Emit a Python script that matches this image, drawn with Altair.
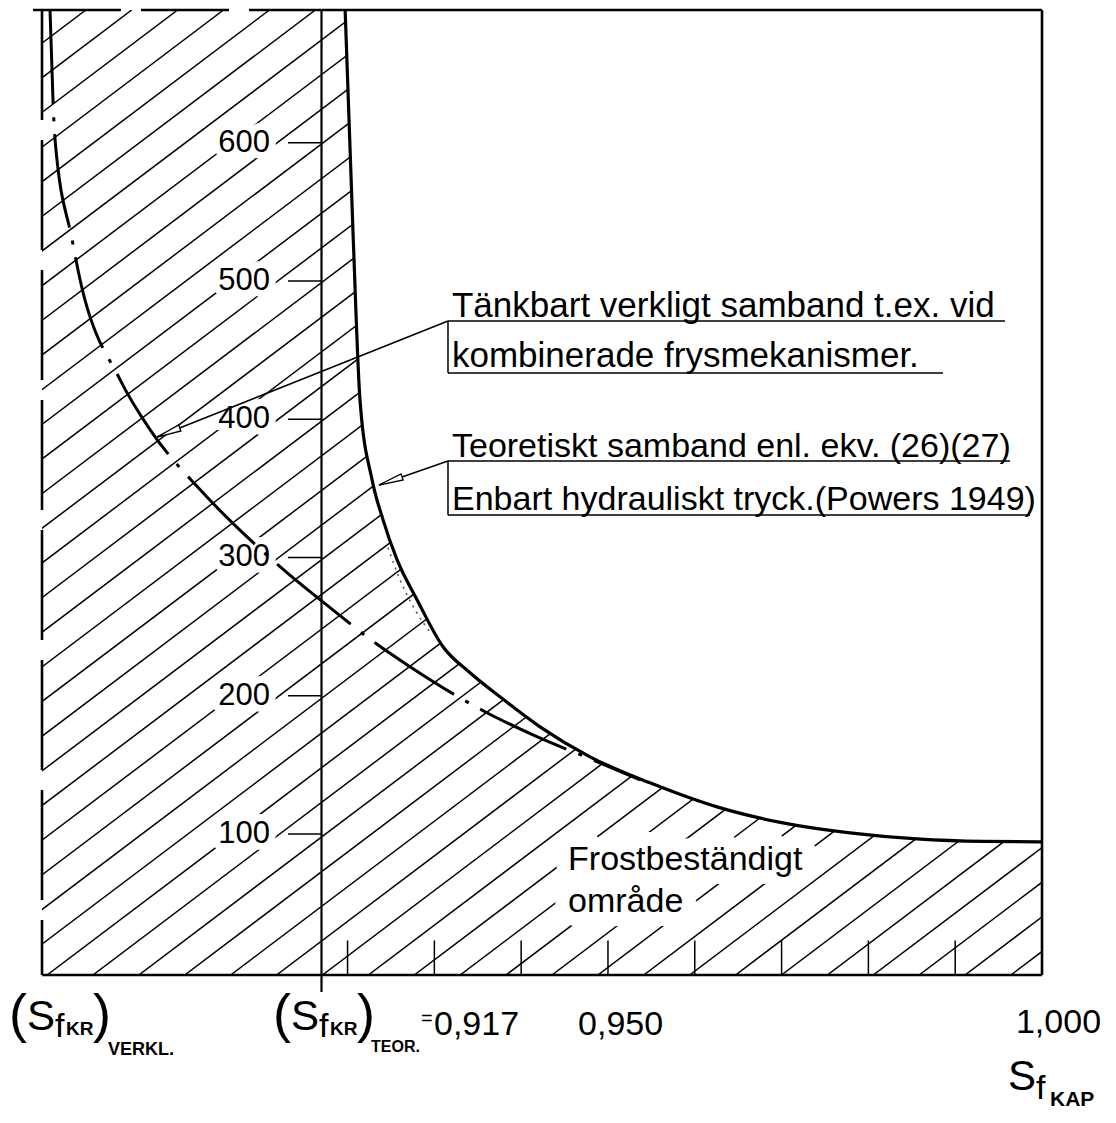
import altair as alt
import pandas as pd

# ---------------- values ----------------
# Theoretical relation (Powers 1949): S_f_KAP -> value
theo_x = [0.91971, 0.92063, 0.92143, 0.92282, 0.92408, 0.92570, 0.92800, 0.93100,
          0.93411, 0.93756, 0.94217, 0.94793, 0.95484, 0.96256, 0.97016, 0.97788,
          0.98560, 0.99320, 1.00000]
theo_y = [698.0, 535.1, 414.2, 356.3, 327.4, 298.4, 269.5, 235.4,
          216.6, 199.2, 177.5, 155.8, 137.0, 119.6, 108.0, 100.8,
          96.4, 94.6, 94.3]

# Conceivable real relation (dash-dot curve)
verk_x = [0.88572, 0.88630, 0.88826, 0.88918, 0.89379, 0.89724, 0.90300, 0.90876,
          0.91302, 0.91798, 0.92316, 0.92719, 0.93583, 0.94136, 0.94793, 0.95369]
verk_y = [696.6, 602.4, 530.1, 501.1, 428.7, 392.5, 349.1, 312.9,
          289.0, 263.7, 238.3, 221.0, 188.4, 171.7, 154.4, 139.2]

# faint dotted line just inside the theoretical curve
dot_x = [0.92466, 0.92604, 0.92777, 0.92973]
dot_y = [307.1, 283.9, 262.2, 244.1]

y_ticks = [100, 200, 300, 400, 500, 600]
y_tick_labels = ["100", "200", "300", "400", "500", "600"]
x_ticks = [0.92, 0.93, 0.94, 0.95, 0.96, 0.97, 0.98, 0.99]

s_verkl = 0.8848   # (S_fKR)_VERKL.
s_teor = 0.917     # (S_fKR)_TEOR.
s_max = 1.000
y_min, y_max = -2, 696

# ---------------- scales ----------------
xs = alt.Scale(domain=[s_verkl, s_max], nice=False, zero=False)
ys = alt.Scale(domain=[y_min, y_max], nice=False, zero=False)


def X(f):
    return alt.X(f, type="quantitative", scale=xs, axis=None)


def Y(f):
    return alt.Y(f, type="quantitative", scale=ys, axis=None)


def seg_layer(rows, width, dash=None, color="black"):
    df = pd.DataFrame(rows, columns=["x", "y", "x2", "y2"])
    kw = dict(color=color, strokeWidth=width, strokeCap="butt")
    if dash:
        kw["strokeDash"] = dash
    return alt.Chart(df).mark_rule(**kw).encode(
        x=X("x"), x2="x2:Q", y=Y("y"), y2="y2:Q")


def text_layer(rows, font, weight="normal", halo=None, align="left",
               baseline="alphabetic"):
    df = pd.DataFrame(rows, columns=["t", "x", "y", "s"])
    kw = dict(font=font, fontWeight=weight, align=align, baseline=baseline)
    if halo:
        m = alt.Chart(df).mark_text(color="white", stroke="white",
                                    strokeWidth=halo, strokeJoin="round", **kw)
    else:
        m = alt.Chart(df).mark_text(color="black", **kw)
    return m.encode(x=X("x"), y=Y("y"), text="t:N",
                    size=alt.Size("s:Q", scale=None))


# ---------------- hatching (decoration) ----------------
hatch = alt.Chart(alt.sequence(-28, 22, 1, as_="k")).transform_calculate(
    xa="0.88538 + datum.k * 0.0052877",
    xb="datum.xa + 0.14724",
    ya="-2",
    yb="696",
).mark_rule(clip=True, color="black", strokeWidth=1.5).encode(
    x=X("xa"), x2="xb:Q", y=Y("ya"), y2="yb:Q")

theo_df = pd.DataFrame({"x": theo_x, "y": theo_y})
verk_df = pd.DataFrame({"x": verk_x, "y": verk_y})
dot_df = pd.DataFrame({"x": dot_x, "y": dot_y})

# white region above/right of the theoretical curve (un-hatched)
white = alt.Chart(theo_df).mark_area(
    color="white", opacity=1, interpolate="monotone", clip=True
).encode(x=X("x"), y=Y("y"), y2=alt.datum(y_max))

# ---------------- labels ----------------
tick_rows = [(lab, 0.91107, v, 31) for lab, v in zip(y_tick_labels, y_ticks)]

frost_rows = [("Frostbeständigt", 0.94540, 73.9, 34),
              ("område", 0.94540, 43.6, 34)]

annot_rows = [
    ("Tänkbart verkligt samband t.ex. vid", 0.93203, 473.9, 35),
    ("kombinerade frysmekanismer.", 0.93203, 437.8, 35),
    ("Teoretiskt samband enl. ekv. (26)(27)", 0.93203, 372.7, 34),
    ("Enbart hydrauliskt tryck.(Powers 1949)", 0.93203, 334.3, 34),
]

axis_text_rows = [
    ("(", 0.88100, -43.2, 54), ("S", 0.88307, -41.8, 42),
    ("f", 0.88630, -46.9, 34), (")", 0.89068, -43.2, 54),
    ("(", 0.91141, -43.2, 54), ("S", 0.91348, -41.8, 42),
    ("f", 0.91671, -46.9, 34), (")", 0.92109, -43.2, 54),
    ("=", 0.92846, -38.2, 20),
    ("0,917", 0.92996, -45.4, 34),
    ("0,950", 0.94655, -45.4, 34),
    ("1,000", 0.99700, -44.0, 34),
    ("S", 0.99609, -85.2, 42), ("f", 0.99931, -91.7, 34),
]
axis_bold_rows = [
    ("KR", 0.88756, -45.4, 19), ("VERKL.", 0.89240, -59.9, 18),
    ("KR", 0.91798, -45.4, 19), ("TEOR.", 0.92270, -57.7, 16),
    ("KAP", 1.00092, -96.8, 21),
]

# ---------------- line work ----------------
thick = [
    (s_max, y_min, s_max, y_max),            # right border
    (s_verkl, y_min, s_max, y_min),          # bottom axis
    (s_teor, y_max, s_max, y_max),           # top border (solid part)
]
top_dashed = [(0.88376, y_max, s_teor, y_max)]
left_dashed = [(s_verkl, y_max, s_verkl, y_min)]
teor_line = [(s_teor, -14.3, s_teor, y_max)]
thin = (
    [(0.91314, v, s_teor, v) for v in y_ticks]
    + [(v, y_min, v, 23) for v in x_ticks]
    + [
        (0.93157, 471.0, 0.99574, 471.0), (0.93157, 433.4, 0.98860, 433.4),
        (0.93157, 471.0, 0.93157, 433.4),
        (0.93157, 369.8, 0.99631, 369.8), (0.93157, 330.7, 0.99862, 330.7),
        (0.93157, 369.8, 0.93157, 330.7),
        (0.93157, 471.0, 0.89805, 387.1),     # leader to dash-dot curve
        (0.93157, 369.8, 0.92362, 352.4),     # leader to theoretical curve
    ]
)

arrows = pd.DataFrame({"x": [0.89805, 0.92362], "y": [387.1, 352.4],
                       "a": [248.3, 250.8]})
arrow_layer = alt.Chart(arrows).mark_point(
    shape="M0,0L-0.26,2L0.26,2Z", size=600, filled=True, fill="white",
    stroke="black", strokeWidth=1.3, opacity=1
).encode(x=X("x"), y=Y("y"), angle=alt.Angle("a:Q", scale=None))

theo_line = alt.Chart(theo_df).mark_line(
    color="black", strokeWidth=3.2, interpolate="monotone", clip=True
).encode(x=X("x"), y=Y("y"))

verk_line = alt.Chart(verk_df).mark_line(
    color="black", strokeWidth=3, interpolate="monotone",
    strokeDash=[95, 13, 4, 13], clip=True
).encode(x=X("x"), y=Y("y"))

dot_line = alt.Chart(dot_df).mark_line(
    color="#555555", strokeWidth=1.6, strokeDash=[2, 5], interpolate="monotone"
).encode(x=X("x"), y=Y("y"))

SANS = "Liberation Sans"

chart = alt.layer(
    hatch,
    white,
    text_layer(tick_rows, SANS, halo=14, align="right", baseline="middle"),
    text_layer(frost_rows, SANS, halo=28),
    seg_layer(thick, 2.6),
    seg_layer(top_dashed, 2.6, dash=[88, 20]),
    seg_layer(left_dashed, 2.6, dash=[110, 20]),
    seg_layer(teor_line, 2.2),
    seg_layer(thin, 1.5),
    dot_line,
    verk_line,
    theo_line,
    arrow_layer,
    text_layer(tick_rows, SANS, align="right", baseline="middle"),
    text_layer(frost_rows, SANS),
    text_layer(annot_rows, SANS),
    text_layer(axis_text_rows, SANS),
    text_layer(axis_bold_rows, SANS, weight="bold"),
).properties(
    width=1000, height=965,
    autosize=alt.AutoSizeParams(type="none"),
    padding={"left": 34, "top": 2, "right": 66, "bottom": 138},
    background="white",
).configure_view(stroke=None)

chart.save("out.html", embed_options={"renderer": "svg", "actions": False})
